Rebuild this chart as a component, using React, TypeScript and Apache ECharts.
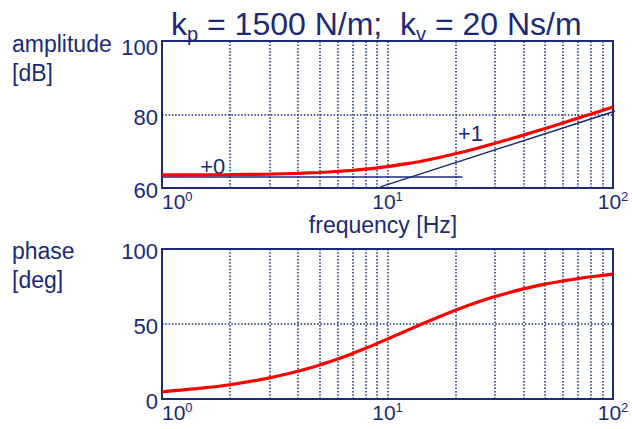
import React, { useEffect, useRef } from 'react';
import * as echarts from 'echarts';

// ---- data ----
const FREQ_HZ = [1, 1.5, 2, 3, 4, 5, 6, 7, 8, 10, 12, 15, 20, 25, 30, 40, 50, 60, 70, 80, 100];
const AMPLITUDE_DB = [63.55, 63.59, 63.64, 63.79, 63.98, 64.22, 64.5, 64.8, 65.13, 65.83, 66.55, 67.63, 69.33, 70.83, 72.16, 74.39, 76.2, 77.71, 79.01, 80.14, 82.04];
const PHASE_DEG = [4.8, 7.2, 9.5, 14.1, 18.5, 22.7, 26.7, 30.4, 33.8, 40.0, 45.2, 51.5, 59.2, 64.5, 68.3, 73.4, 76.6, 78.7, 80.3, 81.5, 83.2];
const ASYMPTOTE_FLAT = [[1, 63.0], [21.5, 63.0]];
const ASYMPTOTE_SLOPE = [[9.3, 60.3], [113, 81.8]];
const SLOPE_LABELS = [
  { name: '+0', coord: [1.68, 65.9] },
  { name: '+1', coord: [23.3, 74.7] },
];
const GRID_FREQ = [2, 3, 4, 5, 6, 7, 8, 9, 10, 20, 30, 40, 50, 60, 70, 80, 90];
const FREQ_RANGE = [1, 100];
const AMP_AXIS = [60, 100, 20];
const PHASE_AXIS = [0, 100, 50];

const NAVY = '#1b2a78';
const RED = '#ff0000';
const FONT = '"Liberation Sans", Arial, Helvetica, sans-serif';
const DOT: any = [1.5, 1.8];

function xAxis(gridIndex: number) {
  return {
    type: 'log',
    logBase: 10,
    gridIndex,
    min: FREQ_RANGE[0],
    max: FREQ_RANGE[1],
    axisLine: { show: true, lineStyle: { color: NAVY, width: 2 } },
    axisTick: { show: false },
    splitLine: { show: false },
    minorTick: { show: false },
    minorSplitLine: { show: false },
    axisLabel: {
      margin: 2,
      color: NAVY,
      fontFamily: FONT,
      alignMinLabel: 'left',
      alignMaxLabel: 'center',
      formatter: (v: number) => `{b|10}{s|${Math.round(Math.log10(v))}}`,
      rich: {
        b: { fontSize: 21, lineHeight: 22, color: NAVY, fontFamily: FONT },
        s: { fontSize: 13, lineHeight: 12, verticalAlign: 'top', color: NAVY, fontFamily: FONT },
      },
    },
  };
}

function yAxis(gridIndex: number, spec: number[], topShift: boolean) {
  return {
    type: 'value',
    gridIndex,
    min: spec[0],
    max: spec[1],
    interval: spec[2],
    axisLine: { show: true, lineStyle: { color: NAVY, width: 2 } },
    axisTick: { show: false },
    splitLine: { show: true, lineStyle: { color: NAVY, type: DOT, width: 1.5 } },
    axisLabel: {
      margin: 4,
      formatter: (v: number) => (topShift && v === spec[1] ? `{t|${v}}` : `{n|${v}}`),
      rich: {
        n: { fontSize: 22, color: NAVY, fontFamily: FONT, padding: [5, 0, 0, 0] },
        t: { fontSize: 22, color: NAVY, fontFamily: FONT, padding: [12, 0, 0, 0] },
      },
    },
  };
}

const gridMarkLine = {
  silent: true,
  symbol: ['none', 'none'],
  label: { show: false },
  lineStyle: { color: NAVY, type: DOT, width: 1.5, opacity: 1 },
  emphasis: { disabled: true },
  data: GRID_FREQ.map((f) => ({ xAxis: f })),
};

export default function App() {
  const ref = useRef<HTMLDivElement>(null);
  useEffect(() => {
    if (!ref.current) return;
    const chart = echarts.init(ref.current, null, { renderer: 'svg' });
    chart.setOption({
      animation: false,
      backgroundColor: '#ffffff',
      title: {
        text: 'k{p|p} = 1500 N/m;  k{p|v} = 20 Ns/m',
        left: 166,
        top: -1,
        textStyle: {
          fontSize: 32,
          fontWeight: 'normal',
          color: NAVY,
          fontFamily: FONT,
          rich: { p: { fontSize: 20, color: NAVY, fontFamily: FONT, padding: [20, 0, 0, 0] } },
        },
      },
      grid: [
        { left: 162, top: 41, right: 19, height: 147, show: true, borderColor: NAVY, borderWidth: 2 },
        { left: 162, top: 249, right: 19, height: 150, show: true, borderColor: NAVY, borderWidth: 2 },
      ],
      xAxis: [xAxis(0), xAxis(1)],
      yAxis: [yAxis(0, AMP_AXIS, true), yAxis(1, PHASE_AXIS, false)],
      graphic: [
        { type: 'text', left: 12, top: 29, style: { text: 'amplitude\n[dB]', fontSize: 23, lineHeight: 29, fill: NAVY, fontFamily: FONT } },
        { type: 'text', left: 12, top: 236, style: { text: 'phase\n[deg]', fontSize: 23, lineHeight: 29, fill: NAVY, fontFamily: FONT } },
        { type: 'text', x: 383, y: 213, style: { text: 'frequency [Hz]', fontSize: 23, fill: NAVY, fontFamily: FONT, align: 'center', verticalAlign: 'top' } },
      ],
      series: [
        {
          type: 'line', xAxisIndex: 0, yAxisIndex: 0, z: 2,
          data: ASYMPTOTE_FLAT, showSymbol: false,
          lineStyle: { color: NAVY, width: 1.5 },
          markLine: gridMarkLine,
          markPoint: {
            symbol: 'circle',
            symbolSize: 0,
            silent: true,
            data: SLOPE_LABELS,
            label: { show: true, position: 'inside', formatter: '{b}', fontSize: 22, color: NAVY, fontFamily: FONT },
          },
        },
        {
          type: 'line', xAxisIndex: 0, yAxisIndex: 0, z: 3, clip: false,
          data: ASYMPTOTE_SLOPE, showSymbol: false,
          lineStyle: { color: NAVY, width: 1.5 },
        },
        {
          type: 'line', xAxisIndex: 0, yAxisIndex: 0, z: 5,
          data: FREQ_HZ.map((f, i) => [f, AMPLITUDE_DB[i]]),
          showSymbol: false, smooth: 0.3,
          lineStyle: { color: RED, width: 3.2 },
        },
        {
          type: 'line', xAxisIndex: 1, yAxisIndex: 1, z: 2,
          data: [], showSymbol: false,
          markLine: gridMarkLine,
        },
        {
          type: 'line', xAxisIndex: 1, yAxisIndex: 1, z: 5,
          data: FREQ_HZ.map((f, i) => [f, PHASE_DEG[i]]),
          showSymbol: false, smooth: 0.3,
          lineStyle: { color: RED, width: 3.2 },
        },
      ],
    });
    return () => chart.dispose();
  }, []);
  return <div ref={ref} style={{ position: 'absolute', left: 0, top: 0, width: 632, height: 429 }} />;
}
